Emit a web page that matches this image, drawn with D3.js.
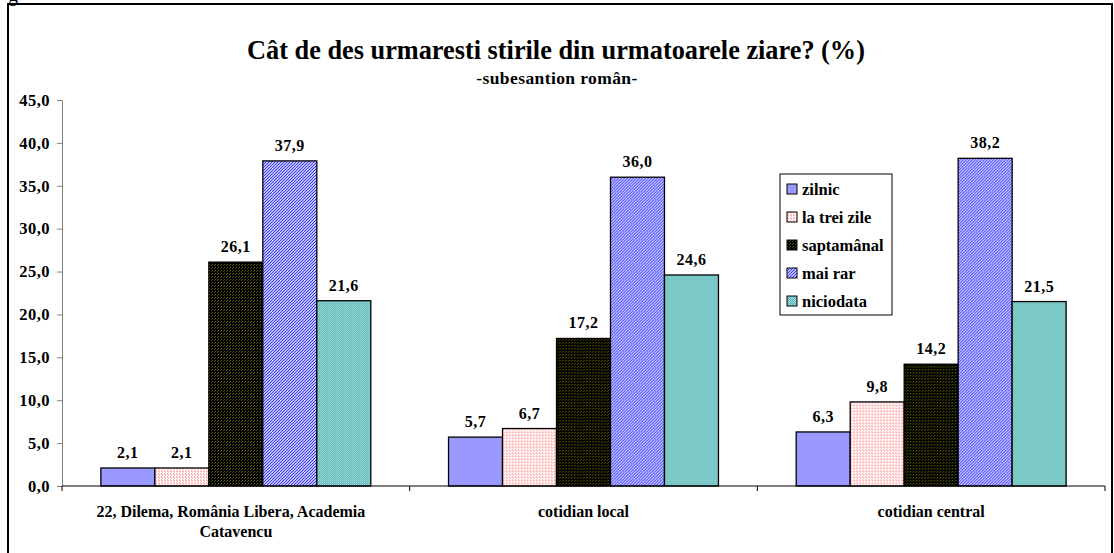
<!DOCTYPE html>
<html>
<head>
<meta charset="utf-8">
<script src="https://cdn.jsdelivr.net/npm/d3@7"></script>
<style>
  body { margin: 0; background: #fff; }
  svg text { font-family: "Times New Roman", Times, "Liberation Serif", serif; font-weight: bold; }
</style>
</head>
<body>
<div id="chart"></div>
<script>
(function () {
    // data
    var categories = [["22, Dilema, România Libera, Academia", "Catavencu"], ["cotidian local"], ["cotidian central"]];
    var seriesNames = ["zilnic", "la trei zile", "saptamânal", "mai rar", "niciodata"];
    var zilnic = [2.1, 5.7, 6.3];
    var laTreiZile = [2.1, 6.7, 9.8];
    var saptamanal = [26.1, 17.2, 14.2];
    var maiRar = [37.9, 36.0, 38.2];
    var niciodata = [21.6, 24.6, 21.5];
    var seriesValues = [zilnic, laTreiZile, saptamanal, maiRar, niciodata];
    var yTicks = [0, 5, 10, 15, 20, 25, 30, 35, 40, 45];

    var serif = '"Times New Roman", Times, "Liberation Serif", serif';
    var w = 1114, h = 553;
    var svg = d3.select('#chart')
        .append('svg')
            .attr('width', w)
            .attr('height', h)
            .attr('font-family', serif);

    // patterns for the fills
    var defs = svg.append('defs');
    function pattern(id, size, bg, draw) {
        var p = defs.append('pattern')
            .attr('id', id)
            .attr('width', size)
            .attr('height', size)
            .attr('patternUnits', 'userSpaceOnUse');
        p.append('rect').attr('width', size).attr('height', size).style('fill', bg);
        draw(p);
    }
    pattern('p-pink', 3, '#ffffff', function (p) {
        p.append('rect').attr('x', 0).attr('y', 0).attr('width', 2).attr('height', 1).style('fill', '#ffb0b0');
        p.append('rect').attr('x', 1).attr('y', 1).attr('width', 1).attr('height', 1).style('fill', '#ffc4c4');
        p.append('rect').attr('x', 0).attr('y', 2).attr('width', 1).attr('height', 1).style('fill', '#ffaaaa');
    });
    pattern('p-black', 3, '#000000', function (p) {
        p.append('rect').attr('x', 0).attr('y', 0).attr('width', 1).attr('height', 1).style('fill', '#6b6b00');
        p.append('rect').attr('x', 2).attr('y', 1).attr('width', 1).attr('height', 1).style('fill', '#4a4a00');
    });
    pattern('p-blue', 3, '#ffffff', function (p) {
        p.append('path').attr('d', 'M-1,1 L1,-1 M0,3 L3,0 M2,4 L4,2')
            .style('stroke', '#3030ff').style('stroke-width', 1.2);
    });
    pattern('p-teal', 2, '#5cb8b8', function (p) {
        p.append('rect').attr('x', 0).attr('y', 0).attr('width', 1).attr('height', 1).style('fill', '#a8dede');
        p.append('rect').attr('x', 1).attr('y', 1).attr('width', 1).attr('height', 1).style('fill', '#8fd0d0');
    });
    var fills = ['#9999ff', 'url(#p-pink)', 'url(#p-black)', 'url(#p-blue)', 'url(#p-teal)'];

    // frame and stray "g" from the page above
    svg.append('text')
        .text('g')
        .attr('x', 8)
        .attr('y', 1)
        .style('font-weight', 'normal')
        .style('font-size', '20px');
    svg.append('rect')
        .attr('x', 8)
        .attr('y', 4)
        .attr('width', 1104)
        .attr('height', 560)
        .style('fill', 'none')
        .style('stroke', '#000')
        .style('stroke-width', 2);

    // titles
    svg.append('text')
        .text('Cât de des urmaresti stirile din urmatoarele ziare? (%)')
        .attr('x', 556)
        .attr('y', 59)
        .attr('text-anchor', 'middle')
        .style('font-size', '26.3px');
    svg.append('text')
        .text('-subesantion român-')
        .attr('x', 557)
        .attr('y', 84)
        .attr('text-anchor', 'middle')
        .style('font-size', '17.5px')
        .style('letter-spacing', '0.4px');

    // scales
    var x0 = d3.scaleBand().domain(d3.range(categories.length)).range([62, 1105]);
    var x1 = d3.scaleBand().domain(d3.range(seriesNames.length)).range([0, x0.bandwidth()]).paddingOuter(0.72);
    var y = d3.scaleLinear().domain([0, 45]).range([486, 100]);
    var fmt = function (v) { return d3.format('.1f')(v).replace('.', ','); };

    // y axis
    var yAxis = svg.append('g')
        .attr('transform', 'translate(62,0)')
        .call(d3.axisLeft(y).tickValues(yTicks).tickSize(5).tickPadding(7).tickFormat(fmt))
        .attr('font-family', serif);
    yAxis.select('.domain').style('stroke', '#808080');
    yAxis.selectAll('.tick line').style('stroke', '#808080');
    yAxis.selectAll('.tick text')
        .style('font-size', '16.5px')
        .style('letter-spacing', '0.5px')
        .attr('fill', '#000');

    // bars
    var groups = svg.selectAll('g.cat')
        .data(categories)
        .enter()
        .append('g')
            .attr('class', 'cat')
            .attr('transform', function (d, i) { return 'translate(' + x0(i) + ',0)'; });

    groups.selectAll('rect')
        .data(function (d, i) { return seriesValues.map(function (s, j) { return { s: j, v: s[i] }; }); })
        .enter()
        .append('rect')
            .attr('x', function (d) { return x1(d.s); })
            .attr('y', function (d) { return y(d.v); })
            .attr('width', x1.bandwidth())
            .attr('height', function (d) { return y(0) - y(d.v); })
            .style('fill', function (d) { return fills[d.s]; })
            .style('stroke', '#000')
            .style('stroke-width', 1.3);

    groups.selectAll('text.val')
        .data(function (d, i) { return seriesValues.map(function (s, j) { return { s: j, v: s[i] }; }); })
        .enter()
        .append('text')
            .attr('class', 'val')
            .text(function (d) { return fmt(d.v); })
            .attr('x', function (d) { return x1(d.s) + x1.bandwidth() / 2; })
            .attr('y', function (d) { return y(d.v) - 10; })
            .attr('text-anchor', 'middle')
            .style('font-size', '16px')
            .style('letter-spacing', '0.5px');

    // x axis
    var xAxis = svg.append('g')
        .attr('transform', 'translate(0,486)');
    xAxis.append('line')
        .attr('x1', 62).attr('x2', 1105)
        .style('stroke', '#000');
    xAxis.selectAll('line.tk')
        .data(d3.range(categories.length + 1))
        .enter()
        .append('line')
            .attr('class', 'tk')
            .attr('x1', function (d) { return 62 + d * x0.step(); })
            .attr('x2', function (d) { return 62 + d * x0.step(); })
            .attr('y1', 0)
            .attr('y2', 5)
            .style('stroke', '#000');
    xAxis.selectAll('text.cat')
        .data(categories)
        .enter()
        .append('text')
            .attr('class', 'cat')
            .attr('text-anchor', 'middle')
            .attr('transform', function (d, i) { return 'translate(' + (x0(i) + x0.bandwidth() / 2) + ',0)'; })
            .style('font-size', '16px')
            .selectAll('tspan')
            .data(function (d) { return d; })
            .enter()
            .append('tspan')
                .attr('x', function (d, i, nodes) { return nodes.length > 1 && i === 0 ? -5 : 0; })
                .attr('y', function (d, i) { return 31 + i * 20; })
                .text(function (d) { return d; });

    // legend
    var legend = svg.append('g').attr('transform', 'translate(780,174)');
    legend.append('rect')
        .attr('width', 112)
        .attr('height', 141)
        .style('fill', '#fff')
        .style('stroke', '#000')
        .style('stroke-width', 1);
    var items = legend.selectAll('g.item')
        .data(seriesNames)
        .enter()
        .append('g')
            .attr('class', 'item')
            .attr('transform', function (d, i) { return 'translate(7,' + (16 + i * 28) + ')'; });
    items.append('rect')
        .attr('x', 0)
        .attr('y', -6)
        .attr('width', 10)
        .attr('height', 10)
        .style('fill', function (d, i) { return fills[i]; })
        .style('stroke', '#000')
        .style('stroke-width', 1);
    items.append('text')
        .text(function (d) { return d; })
        .attr('x', 15)
        .attr('y', 5)
        .style('font-size', '16.5px');
})();
</script>
</body>
</html>
